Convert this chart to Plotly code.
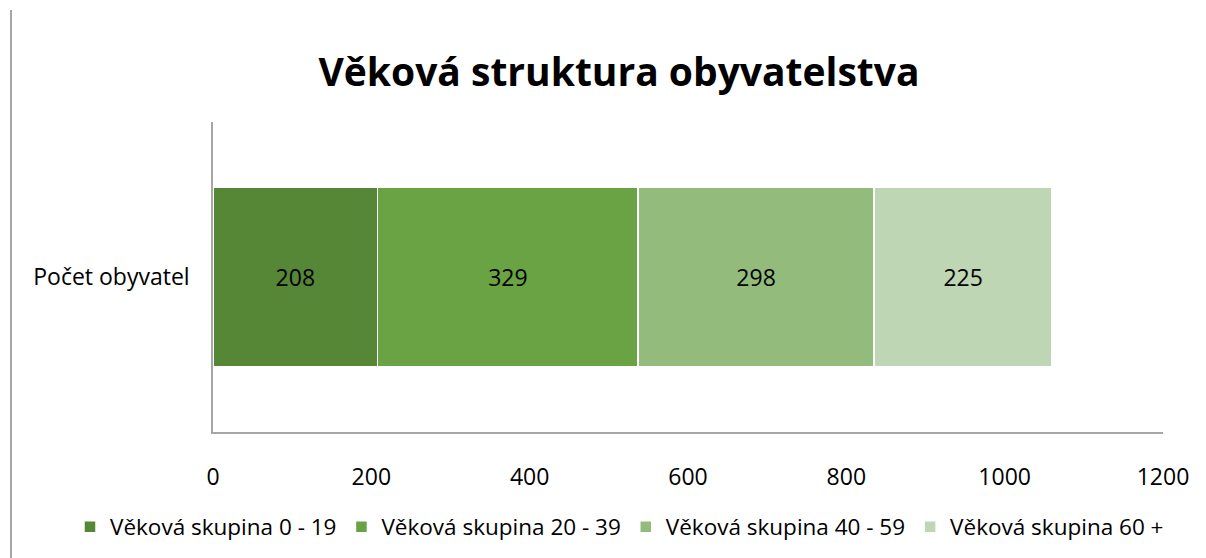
import plotly.graph_objects as go

categories = ["Počet obyvatel"]
series_names = ["Věková skupina 0 - 19", "Věková skupina 20 - 39",
                "Věková skupina 40 - 59", "Věková skupina 60 +"]
series_values = [[208], [329], [298], [225]]
colors = ["#558737", "#6AA343", "#93BC7C", "#BED6B4"]
x_ticks = [0, 200, 400, 600, 800, 1000, 1200]

W, H = 1206, 558
L, R, T, B = 213, 43, 122, 126
pw = W - L - R
ph = H - T - B

fig = go.Figure()
for name, vals, c in zip(series_names, series_values, colors):
    fig.add_trace(go.Bar(
        y=categories, x=vals, name=name, orientation="h",
        marker=dict(color=c, line=dict(color="white", width=1.5)),
        text=[str(v) for v in vals], textposition="inside",
        insidetextanchor="middle",
        textfont=dict(family="Open Sans", size=23, color="black"),
        hoverinfo="skip",
    ))

fig.update_layout(
    width=W, height=H,
    margin=dict(l=L, r=R, t=T, b=B, pad=0, autoexpand=False),
    barmode="stack", bargap=0.42,
    plot_bgcolor="white", paper_bgcolor="white",
    title=dict(text="<b>Věková struktura obyvatelstva</b>",
               font=dict(family="Open Sans", size=39, color="black"),
               x=619 / W, xanchor="center", y=1 - 72 / H, yanchor="middle"),
    xaxis=dict(range=[0, 1200], tickvals=x_ticks, showgrid=False,
               showline=True, linecolor="#A6A6A6", linewidth=1.5,
               ticks="", zeroline=False, ticklabelstandoff=24,
               tickfont=dict(family="Open Sans", size=23, color="black")),
    yaxis=dict(showline=True, linecolor="#A6A6A6", linewidth=1.5,
               ticks="", showgrid=False, ticklabelstandoff=17,
               tickfont=dict(family="Open Sans", size=23, color="black")),
    legend=dict(orientation="h", x=(70 - L) / pw, xanchor="left",
                y=-(527 - (H - B)) / ph, yanchor="middle",
                font=dict(family="Open Sans", size=22.5, color="black"),
                itemwidth=30, traceorder="normal", itemclick=False),
    uniformtext=dict(mode="show", minsize=10),
    showlegend=True,
)

fig.add_shape(type="line", xref="paper", yref="paper",
              x0=(11 - L) / pw, x1=(11 - L) / pw,
              y0=1 + (T - 10) / ph, y1=-(B) / ph,
              line=dict(color="#A6A6A6", width=2))

fig.write_html("out.html")
